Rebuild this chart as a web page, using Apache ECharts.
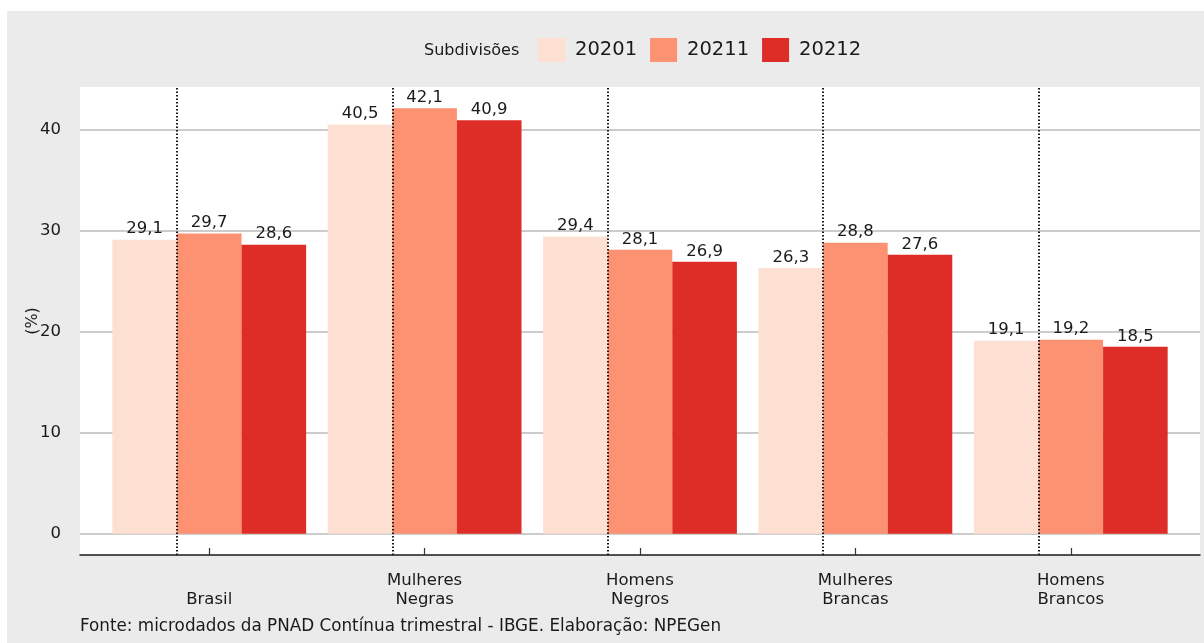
<!DOCTYPE html>
<html>
<head>
<meta charset="utf-8">
<title>Subdivisões</title>
<script src="https://cdn.jsdelivr.net/npm/echarts@6/dist/echarts.min.js"></script>
<style>
    html, body { margin: 0; padding: 0; background: #fff; }
    #chart { position: absolute; left: 7px; top: 11px; width: 1197px; height: 632px; }
</style>
</head>
<body>
<div id="chart"></div>
<script>
// categorias e valores (%)
var categorias = ['Brasil', 'Mulheres\nNegras', 'Homens\nNegros', 'Mulheres\nBrancas', 'Homens\nBrancos'];
var periodos = ['20201', '20211', '20212'];
var v20201 = [29.1, 40.5, 29.4, 26.3, 19.1];
var v20211 = [29.7, 42.1, 28.1, 28.8, 19.2];
var v20212 = [28.6, 40.9, 26.9, 27.6, 18.5];
var yTicks = [0, 10, 20, 30, 40];
var cores = ['#fee0d2', '#fc9272', '#de2d26'];

var posicoes = categorias.map(function (c, i) { return i + 1; });
var fonte = 'DejaVu Sans';

function pares(valores) {
    return valores.map(function (v, i) { return [posicoes[i], v]; });
}

// linhas pontilhadas entre a 1a e a 2a barra de cada grupo
var linhas = posicoes.map(function (p) { return { xAxis: p - 0.15 }; });

var oChart = echarts.init(document.getElementById('chart'));

var series = [v20201, v20211, v20212].map(function (valores, i) {
    var s = {
        name: periodos[i],
        type: 'bar',
        data: pares(valores),
        barWidth: 64.6,
        barGap: '0%',
        itemStyle: { color: cores[i] },
        label: {
            show: true,
            position: 'top',
            distance: 2,
            color: '#1a1a1a',
            fontFamily: fonte,
            fontSize: 16.5,
            formatter: function (p) { return String(p.value[1].toFixed(1)).replace('.', ','); }
        }
    };
    // a serie do meio nao tem deslocamento, entao a linha cai no valor certo
    if (i === 1) {
        s.markLine = {
            silent: true,
            symbol: 'none',
            z: 10,
            label: { show: false },
            lineStyle: { color: '#1a1a1a', width: 2, type: [1.5, 2] },
            data: linhas
        };
    }
    return s;
});

var oOption = {
    backgroundColor: '#ebebeb',
    animation: false,
    title: [
        {
            text: 'Subdivisões',
            left: 417, top: 32, padding: 0,
            textStyle: { fontFamily: fonte, fontSize: 16, fontWeight: 'normal', color: '#1a1a1a' }
        },
        {
            text: 'Fonte: microdados da PNAD Contínua trimestral - IBGE. Elaboração: NPEGen',
            left: 73, top: 607, padding: 0,
            textStyle: { fontFamily: fonte, fontSize: 16.8, fontWeight: 'normal', color: '#1a1a1a' }
        }
    ],
    legend: {
        data: periodos,
        left: 526, top: 22,
        itemWidth: 27, itemHeight: 24, itemGap: 13,
        icon: 'rect',
        textStyle: { fontFamily: fonte, fontSize: 19.5, color: '#1a1a1a', padding: [0, 0, 0, 5] }
    },
    grid: {
        left: 73, right: 4, top: 76, bottom: 88,
        show: true, backgroundColor: '#fff', borderWidth: 0
    },
    xAxis: {
        type: 'value',
        min: 0.4, max: 5.6,
        axisLine: { onZero: false, lineStyle: { color: '#1a1a1a', width: 1.5 } },
        axisTick: { inside: true, length: 7, customValues: posicoes, lineStyle: { color: '#333', width: 1.2 } },
        splitLine: { show: false },
        axisLabel: {
            customValues: posicoes,
            verticalAlign: 'bottom',
            margin: 54,
            lineHeight: 19,
            fontFamily: fonte, fontSize: 16.5, color: '#1a1a1a',
            formatter: function (v) { return categorias[Math.round(v) - 1]; }
        }
    },
    yAxis: {
        type: 'value',
        min: -2.1, max: 44.2,
        name: '(%)',
        nameLocation: 'middle',
        nameRotate: 90,
        nameGap: 39,
        nameMoveOverlap: false,
        nameTextStyle: { fontFamily: fonte, fontSize: 16, color: '#1a1a1a' },
        axisLine: { show: false },
        axisTick: { show: false, customValues: yTicks },
        axisLabel: { customValues: yTicks, margin: 19, fontFamily: fonte, fontSize: 16.5, color: '#1a1a1a' },
        splitLine: { show: true, lineStyle: { color: '#cccccc', width: 2 } }
    },
    series: series
};

oChart.setOption(oOption, true);
</script>
</body>
</html>
